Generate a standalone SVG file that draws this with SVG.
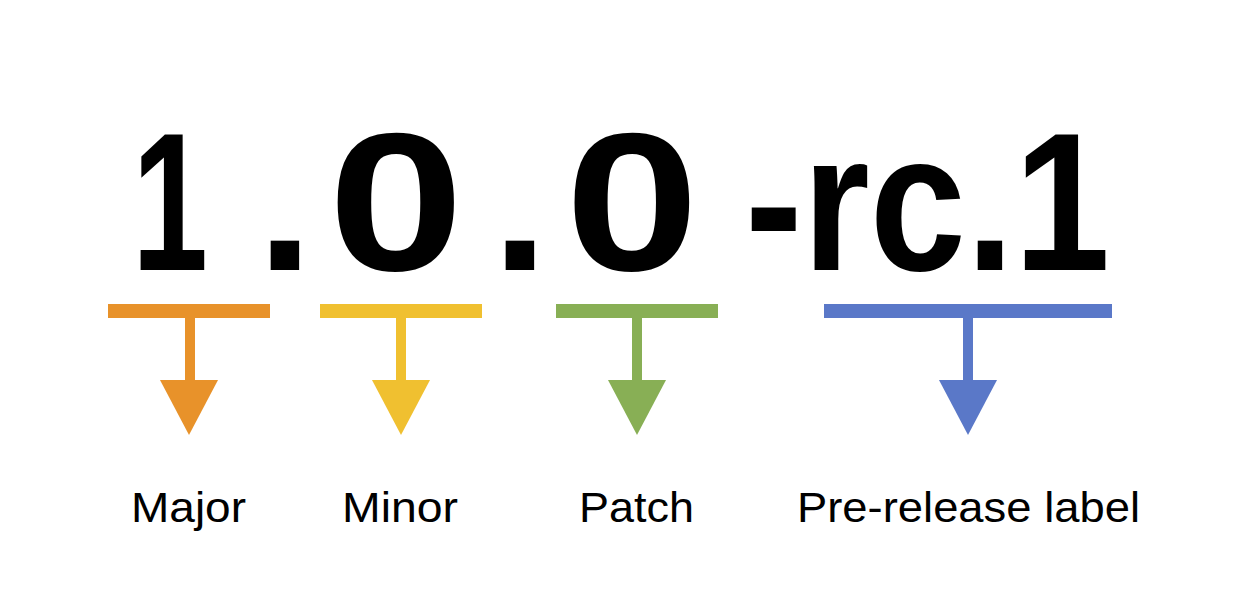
<svg xmlns="http://www.w3.org/2000/svg" width="1254" height="614" viewBox="0 0 1254 614">
<style>
.big{font-family:"Liberation Sans",Arial,sans-serif;font-weight:bold;font-size:196px;fill:#000;text-anchor:start}
.lbl{font-family:"Liberation Sans",Arial,sans-serif;font-size:42px;fill:#000;text-anchor:start}
</style>
<rect width="1254" height="614" fill="#fff"/>
<g id="version">
<text class="big" x="132" y="270" textLength="76" lengthAdjust="spacingAndGlyphs">1</text>
<text class="big" x="257" y="270" textLength="56" lengthAdjust="spacingAndGlyphs">.</text>
<text class="big" x="328" y="270" textLength="136" lengthAdjust="spacingAndGlyphs">0</text>
<text class="big" x="492" y="270" textLength="56" lengthAdjust="spacingAndGlyphs">.</text>
<text class="big" x="565" y="270" textLength="134" lengthAdjust="spacingAndGlyphs">0</text>
<text class="big" x="745" y="270" textLength="365" lengthAdjust="spacingAndGlyphs">-rc.1</text>
</g>
<g id="connectors">
<g fill="#E8922A"><rect x="108" y="304" width="162" height="14"/><rect x="185" y="318" width="10" height="64"/><polygon points="160,380 218,380 189,435"/></g>
<g fill="#F0C030"><rect x="320" y="304" width="162" height="14"/><rect x="396" y="318" width="10" height="64"/><polygon points="372,380 430,380 401,435"/></g>
<g fill="#88AF55"><rect x="556" y="304" width="162" height="14"/><rect x="632" y="318" width="10" height="64"/><polygon points="608,380 666,380 637,435"/></g>
<g fill="#5A78C8"><rect x="824" y="304" width="288" height="14"/><rect x="963" y="318" width="10" height="64"/><polygon points="939,380 997,380 968,435"/></g>
</g>
<g id="major"><text class="lbl" x="131" y="522" textLength="115" lengthAdjust="spacingAndGlyphs">Major</text></g>
<g id="minor"><text class="lbl" x="342" y="522" textLength="116" lengthAdjust="spacingAndGlyphs">Minor</text></g>
<g id="patch"><text class="lbl" x="579" y="522" textLength="115" lengthAdjust="spacingAndGlyphs">Patch</text></g>
<g id="prerelease"><text class="lbl" x="797" y="522" textLength="343" lengthAdjust="spacingAndGlyphs">Pre-release label</text></g>
</svg>
